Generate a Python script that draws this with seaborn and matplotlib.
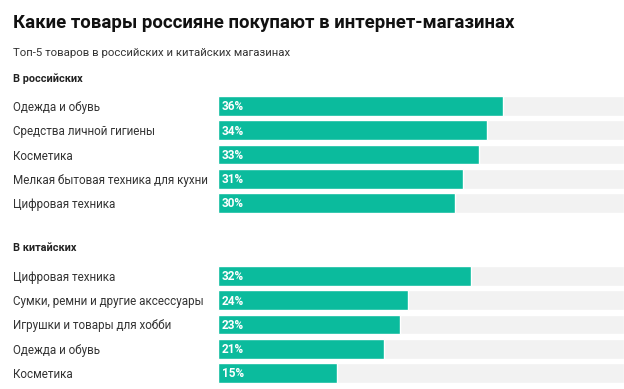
import seaborn as sns
import pandas as pd
import matplotlib.pyplot as plt

ru_labels = ["Одежда и обувь", "Средства личной гигиены", "Косметика",
             "Мелкая бытовая техника для кухни", "Цифровая техника"]
ru_values = [36, 34, 33, 31, 30]

cn_labels = ["Цифровая техника", "Сумки, ремни и другие аксессуары",
             "Игрушки и товары для хобби", "Одежда и обувь", "Косметика"]
cn_values = [32, 24, 23, 21, 15]

TEAL = "#0bbb9d"
TRACK = "#f2f2f2"
XMAX = 51.3

sns.set_theme(style="white")
plt.rcParams['font.family'] = ['Roboto', 'DejaVu Sans']

fig = plt.figure(figsize=(6.24, 3.89), dpi=100)
fig.patch.set_facecolor("white")


def draw_section(rect, labels, values):
    ax = fig.add_axes(rect)
    df = pd.DataFrame({"label": labels, "value": values})
    sns.barplot(data=df, x=[XMAX] * len(labels), y="label", color=TRACK,
                width=0.82, orient="h", ax=ax, saturation=1)
    sns.barplot(data=df, x="value", y="label", color=TEAL,
                width=0.82, orient="h", ax=ax, saturation=1)
    ax.set_xlim(0, XMAX)
    ax.set_ylim(len(labels) - 0.5, -0.5)
    ax.set_xlabel("")
    ax.set_ylabel("")
    ax.set_xticks([])
    for s in ax.spines.values():
        s.set_visible(False)
    ax.tick_params(axis="y", length=0, pad=205 * 0.72, labelsize=8.4,
                   labelcolor="#333333")
    for t in ax.get_yticklabels():
        t.set_horizontalalignment("left")
    for i, v in enumerate(values):
        ax.text(0.5, i + 0.03, f"{v}%", color="white", fontweight="bold",
                fontsize=8.5, va="center", ha="left")
    return ax


draw_section([218 / 624, 1 - 215 / 389, 406 / 624, 121 / 389], ru_labels, ru_values)
draw_section([218 / 624, 1 - 385 / 389, 406 / 624, 121 / 389], cn_labels, cn_values)

fig.text(13 / 624, 1 - 23 / 389, "Какие товары россияне покупают в интернет-магазинах",
         fontsize=13.4, fontweight="bold", color="#111111", va="center", ha="left")
fig.text(13 / 624, 1 - 53 / 389, "Топ-5 товаров в российских и китайских магазинах",
         fontsize=8.2, color="#333333", va="center", ha="left")
fig.text(13 / 624, 1 - 79 / 389, "В российских",
         fontsize=7.8, fontweight="bold", color="#222222", va="center", ha="left")
fig.text(13 / 624, 1 - 248 / 389, "В китайских",
         fontsize=7.8, fontweight="bold", color="#222222", va="center", ha="left")

fig.savefig("out.png", dpi=100, facecolor="white")
